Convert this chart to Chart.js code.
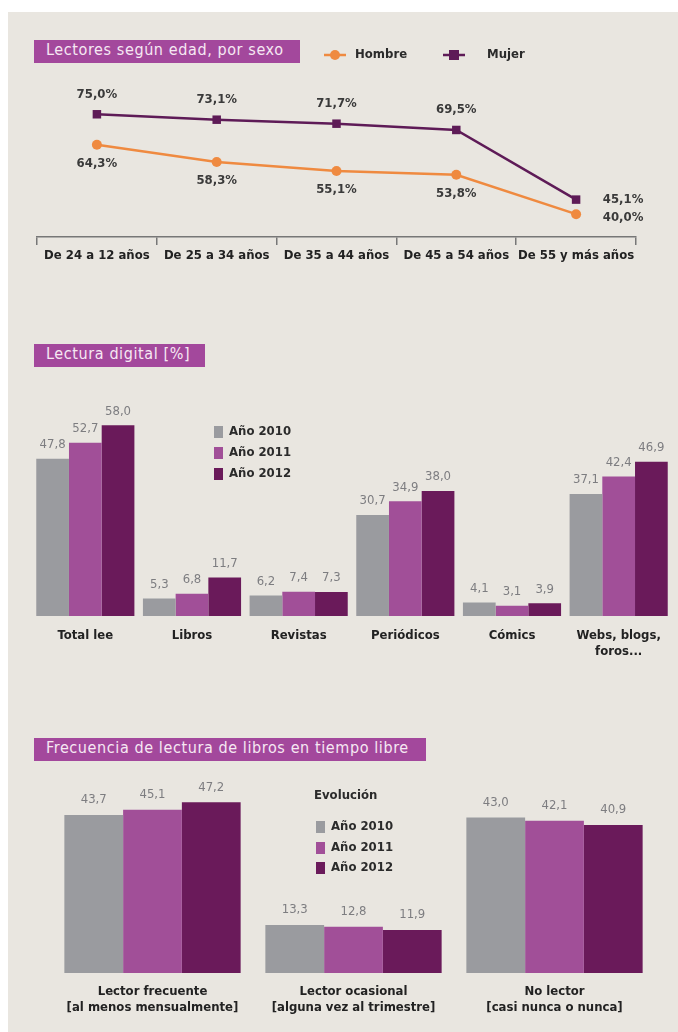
<!DOCTYPE html>
<html>
<head>
<meta charset="utf-8">
<script src="https://cdn.jsdelivr.net/npm/chart.js@4.4.0/dist/chart.umd.min.js"></script>
<style>
body { margin: 0; background: #fff; }
#page { position: relative; width: 678px; height: 1032px; overflow: hidden; background: #fff; }
#panel { position: absolute; left: 8px; top: 12px; right: 0; bottom: 0; background: #e9e6e0; }
.title { position: absolute; left: 34px; height: 23px; line-height: 23px; background: #a3489c; color: #f6e8f3;
         font: 16px 'DejaVu Sans Condensed', 'Liberation Sans Narrow', sans-serif; letter-spacing: 0.6px;
         padding-left: 12px; box-sizing: border-box; white-space: nowrap; }
canvas { position: absolute; left: 8px; }
</style>
</head>
<body>
<div id="page">
  <div id="panel"></div>
  <div class="title" style="top:40px;width:266px">Lectores según edad, por sexo</div>
  <div class="title" style="top:344px;width:171px">Lectura digital [%]</div>
  <div class="title" style="top:738px;width:392px">Frecuencia de lectura de libros en tiempo libre</div>
  <canvas id="chart_edad" width="670" height="240" style="top:30px"></canvas>
  <canvas id="chart_digital" width="670" height="280" style="top:380px"></canvas>
  <canvas id="chart_frecuencia" width="670" height="262" style="top:770px"></canvas>
</div>
<script>
// data
var ageGroups = ['De 24 a 12 años', 'De 25 a 34 años', 'De 35 a 44 años', 'De 45 a 54 años', 'De 55 y más años'];
var hombre = [64.3, 58.3, 55.1, 53.8, 40.0];
var mujer = [75.0, 73.1, 71.7, 69.5, 45.1];

var digitalCategories = ['Total lee', 'Libros', 'Revistas', 'Periódicos', 'Cómics', ['Webs, blogs,', 'foros...']];
var digital2010 = [47.8, 5.3, 6.2, 30.7, 4.1, 37.1];
var digital2011 = [52.7, 6.8, 7.4, 34.9, 3.1, 42.4];
var digital2012 = [58.0, 11.7, 7.3, 38.0, 3.9, 46.9];

var freqCategories = [['Lector frecuente', '[al menos mensualmente]'], ['Lector ocasional', '[alguna vez al trimestre]'], ['No lector', '[casi nunca o nunca]']];
var freq2010 = [43.7, 13.3, 43.0];
var freq2011 = [45.1, 12.8, 42.1];
var freq2012 = [47.2, 11.9, 40.9];

var yearLabels = ['Año 2010', 'Año 2011', 'Año 2012'];

var FONT = "'DejaVu Sans Condensed', 'Liberation Sans Narrow', sans-serif";
var GRAY = '#9a9b9f', PURPLE = '#a14f98', DARK = '#6a1a5a';
var ORANGE = '#ef8a40', MUJER = '#5e1b57';

function fmt(v) { return v.toFixed(1).replace('.', ','); }

// value labels above bars / next to points
var valueLabels = {
    id: 'valueLabels',
    afterDatasetsDraw: function(chart, args, opts) {
        var ctx = chart.ctx;
        ctx.save();
        ctx.font = (opts.weight || 'normal') + ' ' + opts.size + 'px ' + FONT;
        ctx.fillStyle = opts.color;
        ctx.textAlign = 'center';
        ctx.textBaseline = 'middle';
        chart.data.datasets.forEach(function(ds, i) {
            var meta = chart.getDatasetMeta(i);
            meta.data.forEach(function(el, j) {
                var text = fmt(ds.data[j]) + (opts.suffix || '');
                var dy = opts.offsets ? opts.offsets[i] : -14;
                var x = el.x, y = el.y + dy;
                if (opts.lastRight && j === ds.data.length - 1) {
                    x = el.x + 47; y = el.y + (i === 0 ? 3 : 0);
                }
                ctx.fillText(text, x, y);
            });
        });
        ctx.restore();
    }
};

// legend drawn at fixed spots
var placedLegend = {
    id: 'placedLegend',
    afterDraw: function(chart, args, opts) {
        var ctx = chart.ctx;
        ctx.save();
        ctx.font = 'bold 13px ' + FONT;
        ctx.textBaseline = 'middle';
        ctx.textAlign = 'left';
        if (opts.heading) {
            ctx.fillStyle = '#2b2b2b';
            ctx.fillText(opts.heading, opts.x - 2, opts.headingY);
        }
        chart.data.datasets.forEach(function(ds, i) {
            var it = opts.items[i];
            if (opts.kind === 'line') {
                ctx.strokeStyle = ds.borderColor;
                ctx.lineWidth = 2.5;
                ctx.beginPath();
                ctx.moveTo(it.x, it.y);
                ctx.lineTo(it.x + 22, it.y);
                ctx.stroke();
                ctx.fillStyle = ds.borderColor;
                if (ds.pointStyle === 'rect') {
                    ctx.fillRect(it.x + 6, it.y - 5, 10, 10);
                } else {
                    ctx.beginPath();
                    ctx.arc(it.x + 11, it.y, 5, 0, Math.PI * 2);
                    ctx.fill();
                }
                ctx.fillStyle = '#2b2b2b';
                ctx.fillText(ds.label, it.tx, it.y);
            } else {
                ctx.fillStyle = ds.backgroundColor;
                ctx.fillRect(opts.x, it.y - 6, 9, 12);
                ctx.fillStyle = '#2b2b2b';
                ctx.fillText(ds.label, opts.x + 15, it.y);
            }
        });
        ctx.restore();
    }
};

var chart_edad = new Chart(document.getElementById('chart_edad'), {
    type: 'line',
    data: {
        labels: ageGroups,
        datasets: [
            {
                label: 'Hombre',
                data: hombre,
                borderColor: ORANGE,
                backgroundColor: ORANGE,
                borderWidth: 2.5,
                pointStyle: 'circle',
                pointRadius: 5,
                pointBackgroundColor: ORANGE,
                pointBorderWidth: 0
            },
            {
                label: 'Mujer',
                data: mujer,
                borderColor: MUJER,
                backgroundColor: MUJER,
                borderWidth: 2.5,
                pointStyle: 'rect',
                pointRadius: 6,
                pointBackgroundColor: MUJER,
                pointBorderWidth: 0
            }
        ]
    },
    options: {
        animation: false,
        responsive: false,
        layout: { padding: { left: 29, right: 42, top: 70, bottom: 0 } },
        plugins: {
            legend: { display: false },
            tooltip: { enabled: false },
            valueLabels: { size: 13, weight: 'bold', color: '#3a3a3a', suffix: '%', offsets: [19, -20], lastRight: true },
            placedLegend: {
                kind: 'line',
                items: [ { x: 316, y: 25, tx: 347 }, { x: 435, y: 25, tx: 479 } ]
            }
        },
        scales: {
            x: {
                offset: true,
                afterFit: function(s) { s.height = 33; },
                grid: { offset: true, drawOnChartArea: false, drawTicks: true, tickLength: 8, color: '#777', lineWidth: 1.5 },
                border: { display: true, color: '#777', width: 1.5 },
                ticks: { color: '#222', padding: 3, font: { family: FONT, size: 13, weight: 'bold' }, maxRotation: 0 }
            },
            y: { display: false, min: 32, max: 80 }
        }
    },
    plugins: [valueLabels, placedLegend]
});

function barSets(a, b, c) {
    return [
        { label: yearLabels[0], data: a, backgroundColor: GRAY },
        { label: yearLabels[1], data: b, backgroundColor: PURPLE },
        { label: yearLabels[2], data: c, backgroundColor: DARK }
    ];
}

var chart_digital = new Chart(document.getElementById('chart_digital'), {
    type: 'bar',
    data: { labels: digitalCategories, datasets: barSets(digital2010, digital2011, digital2012) },
    options: {
        animation: false,
        responsive: false,
        datasets: { bar: { categoryPercentage: 0.92, barPercentage: 1.0 } },
        layout: { padding: { left: 24, right: 6, top: 19, bottom: 0 } },
        plugins: {
            legend: { display: false },
            tooltip: { enabled: false },
            valueLabels: { size: 13, color: '#7d7d80', offsets: [-14, -14, -14] },
            placedLegend: { kind: 'box', x: 206, items: [ { y: 52 }, { y: 73 }, { y: 94 } ] }
        },
        scales: {
            x: {
                afterFit: function(s) { s.height = 44; },
                grid: { display: false, drawTicks: false },
                border: { display: false },
                ticks: { color: '#222', padding: 11, font: { family: FONT, size: 13, weight: 'bold', lineHeight: 1.25 }, maxRotation: 0 }
            },
            y: { display: false, min: 0, max: 66 }
        }
    },
    plugins: [valueLabels, placedLegend]
});

var chart_frecuencia = new Chart(document.getElementById('chart_frecuencia'), {
    type: 'bar',
    data: { labels: freqCategories, datasets: barSets(freq2010, freq2011, freq2012) },
    options: {
        animation: false,
        responsive: false,
        datasets: { bar: { categoryPercentage: 0.877, barPercentage: 1.0 } },
        layout: { padding: { left: 44, right: 23, top: 4, bottom: 0 } },
        plugins: {
            legend: { display: false },
            tooltip: { enabled: false },
            valueLabels: { size: 13, color: '#7d7d80', offsets: [-15, -15, -15] },
            placedLegend: { kind: 'box', x: 308, heading: 'Evolución', headingY: 26, items: [ { y: 57 }, { y: 78 }, { y: 98 } ] }
        },
        scales: {
            x: {
                afterFit: function(s) { s.height = 59; },
                grid: { display: false, drawTicks: false },
                border: { display: false },
                ticks: { color: '#222', padding: 10, font: { family: FONT, size: 13, weight: 'bold', lineHeight: 1.25 }, maxRotation: 0 }
            },
            y: { display: false, min: 0, max: 55 }
        }
    },
    plugins: [valueLabels, placedLegend]
});
</script>
</body>
</html>
